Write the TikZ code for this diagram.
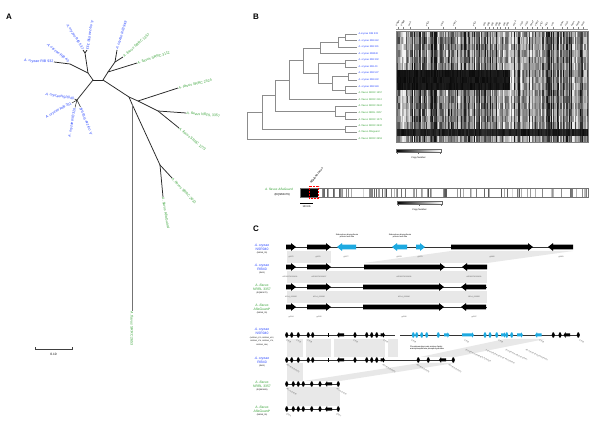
\documentclass[tikz,border=0pt]{standalone}
\usepackage{fontspec}
\setmainfont{Liberation Sans}
\usetikzlibrary{calc}
\definecolor{ory}{RGB}{40,70,255}
\definecolor{fla}{RGB}{60,165,60}
\definecolor{gblue}{RGB}{30,170,225}
\definecolor{lgray}{RGB}{232,232,232}
\newcommand\fsz[1]{\fontsize{#1}{#1}\selectfont}
% big genes (rows 1-4)
\newcommand\gR[4]{\fill[#4] (#1,#3-2.3) -- ({max(#1,#2-5)},#3-2.3) -- ({max(#1,#2-5)},#3-3.9) -- (#2,#3) -- ({max(#1,#2-5)},#3+3.9) -- ({max(#1,#2-5)},#3+2.3) -- (#1,#3+2.3) -- cycle;}
\newcommand\gL[4]{\fill[#4] (#2,#3-2.3) -- ({min(#2,#1+5)},#3-2.3) -- ({min(#2,#1+5)},#3-3.9) -- (#1,#3) -- ({min(#2,#1+5)},#3+3.9) -- ({min(#2,#1+5)},#3+2.3) -- (#2,#3+2.3) -- cycle;}
% small genes (rows 5-8)
\newcommand\sR[4]{\fill[#4] (#1,#3-1.5) -- ({max(#1,#2-2)},#3-1.5) -- ({max(#1,#2-2)},#3-2.8) -- (#2,#3) -- ({max(#1,#2-2)},#3+2.8) -- ({max(#1,#2-2)},#3+1.5) -- (#1,#3+1.5) -- cycle;}
\newcommand\sL[4]{\fill[#4] (#2,#3-1.5) -- ({min(#2,#1+2)},#3-1.5) -- ({min(#2,#1+2)},#3-2.8) -- (#1,#3) -- ({min(#2,#1+2)},#3+2.8) -- ({min(#2,#1+2)},#3+1.5) -- (#2,#3+1.5) -- cycle;}
\newcommand\sD[3]{\fill[#3] (#1-1.6,#2) -- (#1-0.6,#2-2.6) -- (#1+0.6,#2-2.6) -- (#1+1.6,#2) -- (#1+0.6,#2+2.6) -- (#1-0.6,#2+2.6) -- cycle;}
\newcommand\bnode[5]{\draw[treeB] (#2,#3) -- (#1,#3) -- (#1,#5) -- (#4,#5);}
\begin{document}
\begin{tikzpicture}[x=1pt,y=-1pt,
  treeA/.style={line width=0.75pt, draw=black!85},
  treeB/.style={line width=0.35pt, draw=black!45},
  lblA/.style={font=\fsz{3.6}, inner sep=0.4pt},
  lblB/.style={font=\fsz{2.5}, inner sep=0.3pt, anchor=west},
  panel/.style={font=\fsz{8}\bfseries, inner sep=0pt},
  rowlbl/.style={font=\fsz{3.4}, align=center, inner sep=0pt},
  gid/.style={font=\fsz{1.8}, text=black!70, inner sep=0pt},
  bb/.style={line width=0.6pt, draw=black!80},
  bbs/.style={line width=0.5pt, draw=black!80}]
\useasboundingbox (0,0) rectangle (600,430);
\fill[white] (0,0) rectangle (600,430);

% ================= Panel A =================
\node[panel] (pA) at (9,17) {A};
\coordinate (hL) at (93,80);
\coordinate (hR) at (103,80);
\coordinate (u1) at (88,73);
\coordinate (u2) at (70,64);
\coordinate (u3) at (85,53);
\coordinate (l1) at (77,100);
\coordinate (r1) at (108,72);
\coordinate (r2) at (115,62);
\coordinate (n1) at (129,97);
\coordinate (n2) at (138,101);
\coordinate (n4) at (158,111);
\coordinate (n3) at (132,104);
\coordinate (n5) at (160,165);
\coordinate (e932) at (54,62);
\coordinate (e537) at (83,50);
\coordinate (e333) at (87,50);
\coordinate (e3112) at (137,63);
\coordinate (e1357) at (123,57);
\coordinate (e949) at (117,50);
\coordinate (e2524) at (178,88);
\coordinate (e3357) at (186,113);
\coordinate (e1273) at (179,128);
\coordinate (e2653) at (132,311);
\coordinate (eAG) at (163,197);
\coordinate (e2632) at (172,178);
\coordinate (eN) at (74.5,99);
\coordinate (e331) at (72,103);
\coordinate (e326) at (75,107.5);
\coordinate (e642) at (80.5,107);
\draw[treeA] (hL) -- (hR);
\draw[treeA] (hL) -- (u1) -- (u2) -- (e932);
\draw[treeA] (u1) -- (u3) -- (e537);
\draw[treeA] (u3) -- (e333);
\draw[treeA] (hL) -- (l1);
\draw[treeA, line width=0.5pt] (l1) -- (eN) (l1) -- (e331) (l1) -- (e326) (l1) -- (e642);
\draw[treeA] (hR) -- (r1) -- (e3112);
\draw[treeA] (r1) -- (r2) -- (e1357);
\draw[treeA] (r2) -- (e949);
\draw[treeA] (hR) -- (n1) -- (n2) -- (e2524);
\draw[treeA] (n2) -- (n4) -- (e3357);
\draw[treeA] (n4) -- (e1273);
\draw[treeA] (n1) -- (n3) -- (n5) -- (eAG);
\draw[treeA] (n5) -- (e2632);
\draw[line width=0.9pt, draw=black!55] (n3) -- (e2653);

\node[lblA, text=ory, anchor=east, rotate=-2] (tA1) at (e932) {\textit{A. oryzae} RIB 932};
\node[lblA, text=ory, anchor=east, rotate=-39] (tA2) at (69,62) {\textit{A. oryzae} RIB 40};
\node[lblA, text=ory, anchor=east, rotate=-58] (tA3) at (e537) {\textit{A. oryzae} RIB 537};
\node[lblA, text=ory, anchor=east, rotate=-100] (tA4) at (e333) {\textit{A. oryzae} RIB 333};
\node[lblA, text=ory, anchor=west, rotate=72] (tA5) at (e949) {\textit{A. oryzae} RIB 949};
\node[lblA, text=fla, anchor=west, rotate=41] (tA6) at (e1357) {\textit{A. flavus} SRRC 1357};
\node[lblA, text=fla, anchor=west, rotate=18] (tA7) at (e3112) {\textit{A. flavus} SRRC 3112};
\node[lblA, text=ory, anchor=east, rotate=-9] (tA8) at (eN) {\textit{A. oryzae}NSR040};
\node[lblA, text=ory, anchor=east, rotate=29] (tA9) at (e331) {\textit{A. oryzae} RIB 331};
\node[lblA, text=ory, anchor=east, rotate=80] (tA10) at (e326) {\textit{A. oryzae} RIB 326};
\node[lblA, text=ory, anchor=east, rotate=112] (tA11) at (e642) {\textit{A. oryzae} RIB 642};
\node[lblA, text=fla, anchor=west, rotate=13] (tA12) at (e2524) {\textit{A. flavus} SRRC 2524};
\node[lblA, text=fla, anchor=west, rotate=-5] (tA13) at (e3357) {\textit{A. flavus} NRRL 3357};
\node[lblA, text=fla, anchor=west, rotate=-40] (tA14) at (e1273) {\textit{A. flavus} SRRC 1273};
\node[lblA, text=fla, anchor=west, rotate=-47] (tA15) at (e2632) {\textit{A. flavus} SRRC 2632};
\node[lblA, text=fla, anchor=west, rotate=-80] (tA16) at (eAG) {\textit{A. flavus} AflaGuard};
\node[lblA, text=fla, anchor=west, rotate=-90] (tA17) at (e2653) {\textit{A. flavus} SRRC 2653};
% scale bar
\coordinate (sb1) at (35,349);
\coordinate (sb2) at (72,349);
\draw[line width=0.5pt, draw=black!75] (sb1) -- (sb2);
\draw[line width=0.5pt, draw=black!75] (35,347.5) -- (35,350.5) (72,347.5) -- (72,350.5);
\node[lblA, font=\fsz{3.2}] (sbl) at (53.5,354) {0.10};

% ================= Panel B =================
\node[panel] (pB) at (256,17) {B};
% dendrogram
\bnode{345}{357}{34}{357}{40.55}
\bnode{338}{345}{37.28}{357}{47.1}
\bnode{320}{338}{42.19}{357}{53.65}
\bnode{345}{357}{60.2}{357}{66.75}
\bnode{348}{357}{73.3}{357}{79.85}
\bnode{345}{357}{86.4}{357}{92.95}
\bnode{332}{348}{76.58}{345}{89.68}
\bnode{318}{345}{63.48}{332}{83.13}
\bnode{303}{320}{47.92}{318}{73.3}
\bnode{289}{303}{60.61}{357}{99.5}
\bnode{345}{357}{112.6}{357}{119.15}
\bnode{335}{357}{106.05}{345}{115.88}
\bnode{275}{289}{80.06}{335}{110.96}
\bnode{345}{357}{125.7}{357}{132.25}
\bnode{262}{275}{95.51}{345}{128.98}
\bnode{247}{262}{112.24}{357}{138.8}
% labels
\foreach \i/\t/\c in {1/A.oryzae RIB 333/ory,2/A. oryzae RIB 642/ory,3/A. oryzae RIB 331/ory,4/A. oryzae RIB040/ory,5/A. oryzae RIB 302/ory,6/A. oryzae RIB 40/ory,7/A. oryzae RIB 537/ory,8/A. oryzae RIB 632/ory,9/A. oryzae RIB 949/ory,10/A. flavus SRRC 1357/fla,11/A. flavus SRRC 2112/fla,12/A. flavus SRRC 2524/fla,13/A. flavus NRRL 3357/fla,14/A. flavus SRRC 1273/fla,15/A. flavus SRRC 2632/fla,16/A. flavus Aflaguard/fla,17/A. flavus SRRC 2653/fla}{
  \node[lblB, text=\c] (bl\i) at (358,{34+(\i-1)*6.55}) {\t};
}
% heatmap
\pgfmathsetseed{11}
\foreach \c in {0,...,159}{
  \pgfmathsetmacro\base{rnd}
  \foreach \r in {1,...,17}{
    \pgfmathsetmacro\v{min(92,max(4,115*(0.65*\base+0.35*rnd)-8))}
    \pgfmathsetmacro\w{(\r>6 && \r<10 && \c<95) ? 88+8*rnd : ((\r==16) ? 80+15*rnd : \v)}
    \fill[black!\w] ({396+\c*1.2},{34+(\r-1)*6.55-3.28}) rectangle ++(1.25,6.6);
  }
}
\draw[black!50, line width=0.2pt] (396,30.7) rectangle (588,142.1);
% column headers
\draw[black!40, line width=0.2pt] (396,29.2) -- (588,29.2);
\foreach \x/\t in {398/hmgA,403/hmgB,410/ustA,428/pksA,443/hlyA,455/nrps1,475/pks3,485/aflA,489/aflB,493/aflC,497/aflD,500/aflE,505/aflF,508/aflG,515/cpaA,522/lnaA,527/lnbA,532/dmaT,537/nrps2,542/pks7,547/ffsA,553/sirA,562/atmA,567/leuA,573/hasA,578/hasB,583/asaC}{
  \draw[black!50, line width=0.2pt] (\x,27.3) -- (\x,29.2);
  \node[rotate=60, anchor=south west, font=\fsz{2.2}\itshape, inner sep=0.2pt] at ({\x-0.6},26.8) {\t};
}
% colour bar
\shade[left color=black, right color=white] (396,149.5) rectangle (441,152.5);
\draw[black!60, line width=0.2pt] (396,149.5) rectangle (441,152.5);
\draw[black!60, line width=0.2pt] (397,152.5) -- (397,154) (418.5,152.5) -- (418.5,154) (440,152.5) -- (440,154);
\node[font=\fsz{2.3}, inner sep=0pt] (cb1) at (418.5,157.5) {Copy Number};

% chromosome bar
\node[font=\fsz{3.2}\itshape, text=fla, anchor=east, inner sep=0pt] (agl) at (293,189.5) {A. flavus AflaGuard};
\node[font=\fsz{2.8}, anchor=east, inner sep=0pt] (agid) at (290,194.8) {(EQ963479)};
\fill[white] (300,188) rectangle (588,197);
\foreach \k in {1,...,90}{
  \pgfmathsetmacro\xx{318+269*rnd}
  \pgfmathsetmacro\gg{15+55*rnd}
  \fill[black!\gg] (\xx,188) rectangle ++(0.7,9);
}
\fill[black] (300,188) rectangle (318,197);
\draw[black!55, line width=0.3pt] (300,188) rectangle (588,197);
\draw[red, densely dotted, line width=0.5pt] (309,186.5) rectangle (318.5,198.5);
\node[rotate=52, anchor=south west, font=\fsz{3}, inner sep=0.3pt] (afl) at (311.5,184.5) {Aflatoxin locus};
\draw[line width=0.7pt] (300,203) -- (313,203);
\node[font=\fsz{2.5}, inner sep=0pt] (kb) at (306.5,207) {100 Kb};
\shade[left color=black, right color=white] (397,201.5) rectangle (442,204.5);
\draw[black!60, line width=0.2pt] (397,201.5) rectangle (442,204.5);
\draw[black!60, line width=0.2pt] (398,204.5) -- (398,206) (419.5,204.5) -- (419.5,206) (441,204.5) -- (441,206);
\node[font=\fsz{2.3}, inner sep=0pt] (cb2) at (419.5,209.5) {Copy Number};

% ================= Panel C =================
\node[panel] (pC) at (256,229) {C};
% shading upper block
\fill[lgray] (287,251) rectangle (331,263);
\fill[lgray] (451,251) -- (573,251) -- (487,263) -- (364,263) -- cycle;
\fill[lgray] (287,271) rectangle (487,283);
\fill[lgray] (287,291) rectangle (487,303);
% row 1
\draw[bb] (287,247) -- (573,247);
\gR{286}{296}{247}{black}
\gR{307}{331}{247}{black}
\gL{337}{356}{247}{gblue}
\gL{392}{407}{247}{gblue}
\gR{416}{425}{247}{gblue}
\gR{451}{533}{247}{black}
\gL{548}{573}{247}{black}
% row 2
\draw[bb] (287,267) -- (487,267);
\gR{286}{296}{267}{black}
\gR{307}{331}{267}{black}
\gR{364}{445}{267}{black}
\gL{462}{487}{267}{black}
% row 3
\draw[bb] (287,287) -- (487,287);
\gR{286}{296}{287}{black}
\gR{307}{331}{287}{black}
\gR{363}{444}{287}{black}
\gL{461}{486}{287}{black}
% row 4
\draw[bb] (287,307) -- (487,307);
\gR{286}{296}{307}{black}
\gR{307}{331}{307}{black}
\gR{363}{444}{307}{black}
\gL{461}{486}{307}{black}
% annotations
\node[font=\fsz{2}, align=center, inner sep=0pt] (an1) at (347,236) {Siderophore biosynthesis\\protein IucA-like};
\node[font=\fsz{2}, align=center, inner sep=0pt] (an2) at (400,236) {Siderophore biosynthesis\\protein IucA-like};
\foreach \x/\t in {291/g1975,318/g1976,346/g1977,399/g1978,420/g1979,492/g1980,561/g1981}{\node[gid] at (\x,257) {\t};}
\foreach \x/\t in {290/AO090701000136,319/AO090701000137,404/AO090701000138,474/AO090701000139}{\node[gid] at (\x,277) {\t};}
\foreach \x/\t in {291/AFLA\_063320,319/AFLA\_063330,404/AFLA\_063340,474/AFLA\_063350}{\node[gid] at (\x,297) {\t};}
\foreach \x/\t in {291/g4134,319/g4135,404/g4136,474/g4137}{\node[gid] at (\x,317) {\t};}
% row labels upper
\node[rowlbl] (c1) at (262,249) {\textcolor{ory}{\textit{A. oryzae}}\\[0.6pt]\textcolor{ory}{NSR040}\\[0.3pt]{\fsz{2}(NNNN\_00)}};
\node[rowlbl] (c2) at (262,269) {\textcolor{ory}{\textit{A. oryzae}}\\[0.6pt]\textcolor{ory}{RIB40}\\[0.3pt]{\fsz{2}(EIA1)}};
\node[rowlbl] (c3) at (262,289) {\textcolor{fla}{\textit{A. flavus}}\\[0.6pt]\textcolor{fla}{NRRL 3357}\\[0.3pt]{\fsz{2}(EQ963472)}};
\node[rowlbl] (c4) at (262,309) {\textcolor{fla}{\textit{A. flavus}}\\[0.6pt]\textcolor{fla}{AflaGuard*}\\[0.3pt]{\fsz{2}(NNNN\_00)}};

% shading lower block
\fill[lgray] (287,339) rectangle (303,357);
\fill[lgray] (306,339) rectangle (331,357);
\fill[lgray] (334,339) rectangle (385,357);
\fill[lgray] (388,339) rectangle (398,357);
\fill[lgray] (505,339) -- (545,339) -- (455,357) -- (420,357) -- cycle;
\fill[lgray] (287,363) rectangle (303,381);
\fill[lgray] (420,363) -- (455,363) -- (340,381) -- (304,381) -- cycle;
\fill[lgray] (287,387) rectangle (340,406);
% row 5
\draw[bbs] (287,335) -- (395,335) (400,335) -- (578,335);
\foreach \x in {286.7,291.7,298.3,308.3,312.7,355,366.7,371.7,376.7}{\sD{\x}{335}{black}}
\fill[black] (327.8,333) rectangle (328.8,337);
\sL{337}{344}{335}{black}
\sR{380.5}{385}{335}{black}
\foreach \x in {413.3,416.7,421.7,426.7,438.3,485,490,496.7,506.7,511.7}{\sD{\x}{335}{gblue}}
\sR{444}{449.5}{335}{gblue}
\sR{462}{474}{335}{gblue}
\sR{501}{506}{335}{gblue}
\sR{517}{523}{335}{gblue}
\sL{535}{541.5}{335}{gblue}
\foreach \x in {553.3,560,578.3}{\sD{\x}{335}{black}}
\sL{563.5}{570}{335}{black}
% row 6
\draw[bbs] (287,360) -- (453,360);
\foreach \x in {286.7,291.7,298.3,308.3,312.7,355,366.7,371.7,376.7,418.3,428.3,453.3}{\sD{\x}{360}{black}}
\fill[black] (327.8,358) rectangle (328.8,362);
\sL{337}{344}{360}{black}
\sR{380.5}{385}{360}{black}
\sL{439}{446}{360}{black}
% row 7
\draw[bbs] (287,384) -- (338,384);
\foreach \x in {286.7,293.3,298.3,303.3,311.7,320,338.3}{\sD{\x}{384}{black}}
\sL{325}{332}{384}{black}
% row 8
\draw[bbs] (287,409) -- (338,409);
\foreach \x in {286.7,293.3,298.3,303.3,311.7,320,338.3}{\sD{\x}{409}{black}}
\sL{325}{332}{409}{black}
% lower gene ids
\foreach \x/\t in {288/g7034,298/g7035,309/g7038,355/g7042,385/g7045,413/g7048,466/g7052,500/g7054,541/g7059,581/g7063}{\node[gid, rotate=-30, anchor=north west] at ({\x-1},339.5) {\t};}
\node[font=\fsz{2}, align=left, anchor=north west, inner sep=0pt] (an3) at (410,345.5) {Phosphoenolpyruvate mutase family\\aminophosphonate phosphohydrolase};
\foreach \x/\t in {466/phosphonoacetaldehyde hydrolase,486/2-aminoethylphosphonate transaminase,506/phosphonate ABC transporter,526/HD domain phosphohydrolase}{\node[gid, rotate=-25, anchor=north west] at (\x,349) {\t};}
\foreach \x/\t in {288/AO090011000630,384/AO090011000640,418/AO090011000648,450/AO090011000652}{\node[gid, rotate=-30, anchor=north west] at ({\x-1},364) {\t};}
\foreach \x/\t in {288/AFLA\_113050,338/AFLA\_113100}{\node[gid, rotate=-30, anchor=north west] at ({\x-1},388) {\t};}
\foreach \x/\t in {288/g2410,338/g2417}{\node[gid, rotate=-30, anchor=north west] at ({\x-1},413) {\t};}
% row labels lower
\node[rowlbl] (c5) at (262,337) {\textcolor{ory}{\textit{A. oryzae}}\\[0.6pt]\textcolor{ory}{NSR040}\\[0.3pt]{\fsz{1.8}(NSR040\_176, NSR040\_4C5,}\\{\fsz{1.8}NSR040\_178, NSR040\_179,}\\{\fsz{1.8}NSR040\_184)}};
\node[rowlbl] (c6) at (262,362) {\textcolor{ory}{\textit{A. oryzae}}\\[0.6pt]\textcolor{ory}{RIB40}\\[0.3pt]{\fsz{2}(EIA1)}};
\node[rowlbl] (c7) at (262,386) {\textcolor{fla}{\textit{A. flavus}}\\[0.6pt]\textcolor{fla}{NRRL 3357}\\[0.3pt]{\fsz{2}(EQ963483)}};
\node[rowlbl] (c8) at (262,411) {\textcolor{fla}{\textit{A. flavus}}\\[0.6pt]\textcolor{fla}{AflaGuard*}\\[0.3pt]{\fsz{2}(NNNN\_26)}};
\end{tikzpicture}
\end{document}
